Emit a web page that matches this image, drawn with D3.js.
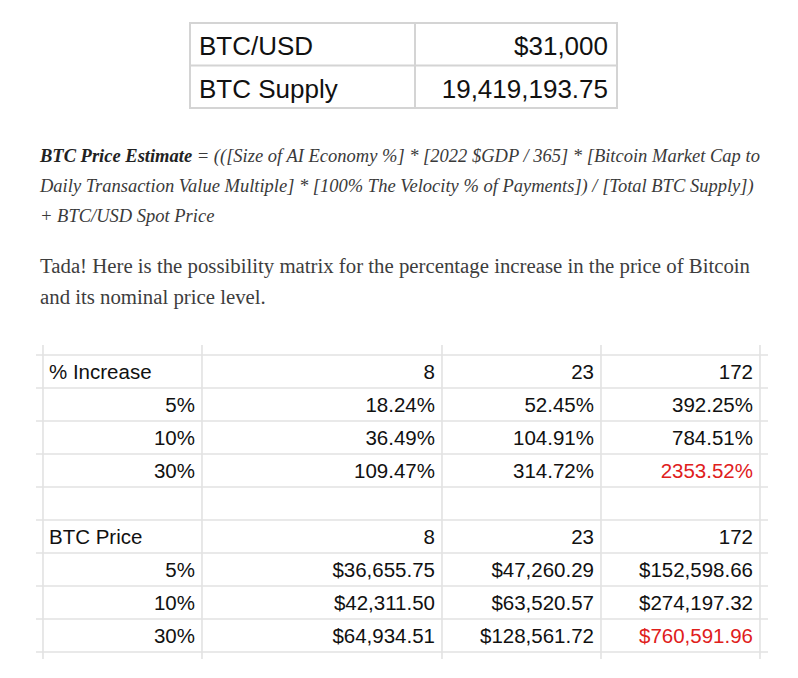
<!DOCTYPE html>
<html><head><meta charset="utf-8">
<script src="https://cdn.jsdelivr.net/npm/d3@7"></script>
<style>html,body{margin:0;padding:0;background:#fff;}</style>
</head><body>
<svg id="chart" width="798" height="678"></svg>
<script>
// ---- data ----
const topLabels = ["BTC/USD", "BTC Supply"];
const topValues = ["$31,000", "19,419,193.75"];
const formulaLines = [
  ["BTC Price Estimate", " = (([Size of AI Economy %] * [2022 $GDP / 365] * [Bitcoin Market Cap to"],
  ["", "Daily Transaction Value Multiple] * [100% The Velocity % of Payments]) / [Total BTC Supply])"],
  ["", "+ BTC/USD Spot Price"]
];
const introLines = [
  "Tada! Here is the possibility matrix for the percentage increase in the price of Bitcoin",
  "and its nominal price level."
];
const multiples = [8, 23, 172];
const aiShares = ["5%", "10%", "30%"];
const pctIncrease = [
  [18.24, 52.45, 392.25],
  [36.49, 104.91, 784.51],
  [109.47, 314.72, 2353.52]
];
const btcPrice = [
  [36655.75, 47260.29, 152598.66],
  [42311.50, 63520.57, 274197.32],
  [64934.51, 128561.72, 760591.96]
];
const sectionTitles = ["% Increase", "BTC Price"];

// ---- drawing ----
const svg = d3.select("#chart");
const sans = "'Liberation Sans', Arial, sans-serif";
const serif = "'Liberation Serif', 'Times New Roman', serif";
const red = "#e0201c";

// top table
const topX = d3.scaleOrdinal().domain([0,1,2]).range([190, 415, 617]);
const topY = d3.scaleBand().domain(d3.range(topLabels.length)).range([23, 108]);
const tg = svg.append("g");
tg.selectAll("line.h").data(d3.range(topLabels.length + 1)).join("line")
  .attr("x1", 189).attr("x2", 618)
  .attr("y1", d => d < topLabels.length ? topY(d) : topY.range()[1])
  .attr("y2", d => d < topLabels.length ? topY(d) : topY.range()[1])
  .attr("stroke", "#d4d4d4").attr("stroke-width", 2);
tg.selectAll("line.v").data([0,1,2]).join("line")
  .attr("x1", d => topX(d)).attr("x2", d => topX(d))
  .attr("y1", 22).attr("y2", 109)
  .attr("stroke", "#d4d4d4").attr("stroke-width", 2);
tg.selectAll("text.l").data(topLabels).join("text")
  .attr("x", topX(0) + 9).attr("y", (d,i) => topY(i) + 32)
  .attr("font-family", sans).attr("font-size", 26).attr("fill", "#111")
  .text(d => d);
tg.selectAll("text.v").data(topValues).join("text")
  .attr("x", topX(2) - 9).attr("y", (d,i) => topY(i) + 32)
  .attr("text-anchor", "end")
  .attr("font-family", sans).attr("font-size", 26).attr("fill", "#111")
  .text(d => d);

// formula paragraph
const fY = d3.scaleLinear().domain([0, 1]).range([162, 192]);
formulaLines.forEach((ln, i) => {
  const t = svg.append("text").attr("x", 40).attr("y", fY(i))
    .attr("font-family", serif).attr("font-size", 18.5).attr("font-style", "italic")
    .attr("fill", "#3a3a3a");
  if (ln[0]) t.append("tspan").attr("font-weight", "bold").attr("fill", "#222").text(ln[0]);
  t.append("tspan").text(ln[1]);
});

// intro paragraph
const iY = d3.scaleLinear().domain([0, 1]).range([273, 304]);
introLines.forEach((ln, i) => {
  svg.append("text").attr("x", 40).attr("y", iY(i))
    .attr("font-family", serif).attr("font-size", 20.8)
    .attr("fill", "#3d3d3d").text(ln);
});

// matrix grid
const colEdges = [43, 202, 442, 601, 760];
const nRows = 9;
const rowY = d3.scaleLinear().domain([0, nRows]).range([355, 652]);
const gg = svg.append("g");
gg.selectAll("line.h").data(d3.range(nRows + 1)).join("line")
  .attr("x1", 36).attr("x2", 768)
  .attr("y1", d => rowY(d)).attr("y2", d => rowY(d))
  .attr("stroke", "#e2e2e2").attr("stroke-width", 1.6);
gg.selectAll("line.v").data(colEdges).join("line")
  .attr("x1", d => d).attr("x2", d => d)
  .attr("y1", 345).attr("y2", 659)
  .attr("stroke", "#e2e2e2").attr("stroke-width", 1.6);

function cellText(row, col, txt, color) {
  const right = col > 0;
  gg.append("text")
    .attr("x", right ? colEdges[col + 1] - 7 : colEdges[0] + 6)
    .attr("y", rowY(row) + 24)
    .attr("text-anchor", right ? "end" : "start")
    .attr("font-family", sans).attr("font-size", 20.5)
    .attr("fill", color || "#111").text(txt);
}
const fmtPct = v => d3.format(".2f")(v) + "%";
const fmtUsd = v => "$" + d3.format(",.2f")(v);

[[0, pctIncrease, fmtPct], [5, btcPrice, fmtUsd]].forEach(([r0, vals, fmt], s) => {
  cellText(r0, 0, sectionTitles[s]);
  multiples.forEach((m, j) => cellText(r0, j + 1, String(m)));
  aiShares.forEach((a, i) => {
    gg.append("text").attr("x", colEdges[1] - 7).attr("y", rowY(r0 + 1 + i) + 24)
      .attr("text-anchor", "end").attr("font-family", sans).attr("font-size", 20.5)
      .attr("fill", "#111").text(a);
    vals[i].forEach((v, j) => {
      const isMax = i === aiShares.length - 1 && j === multiples.length - 1;
      cellText(r0 + 1 + i, j + 1, fmt(v), isMax ? red : "#111");
    });
  });
});
</script>
</body></html>
